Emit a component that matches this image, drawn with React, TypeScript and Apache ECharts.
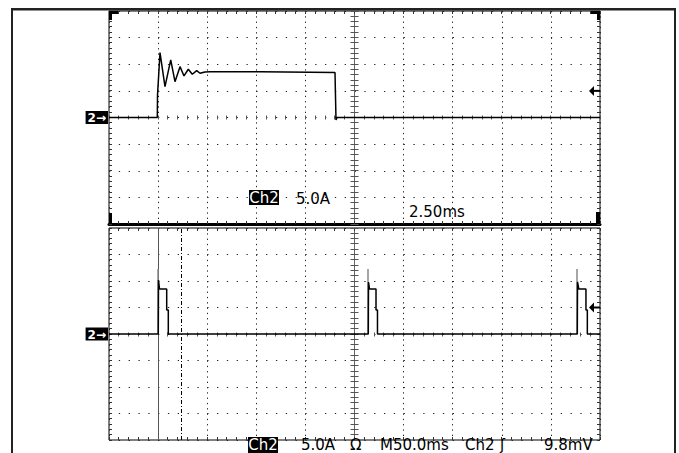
import React, { useEffect, useRef } from "react";
import * as echarts from "echarts";

// ---- Scales (5.0 A/div vertical, 10 x 8 divisions) ----
const Y_MIN = -20;
const Y_MAX = 20;
const Y_STEP = 5; // A per division
const UPPER_X_MAX = 25; // ms, 2.50 ms/div
const UPPER_X_STEP = 2.5;
const LOWER_X_MAX = 500; // ms, 50.0 ms/div
const LOWER_X_STEP = 50;
const TRIGGER_LEVEL = 5; // A (trigger arrow)

// ---- Upper (zoomed) trace: time ms, current A ----
const upperTime = [0, 2.459, 2.47, 2.597, 2.851, 3.142, 3.36, 3.615, 3.819, 4.038, 4.241, 4.465, 4.633, 4.888, 5.142, 7.688, 11.507, 11.558, 11.609, 25];
const upperAmps = [0, 0, 4.2, 12.18, 5.79, 10.81, 6.73, 9.55, 7.8, 9.06, 8.12, 8.8, 8.31, 8.55, 8.58, 8.58, 8.46, -0.47, 0, 0];

// ---- Lower (main) trace: time ms, current A ----
const lowerTime = [0, 50.2, 50.41, 51.43, 58.76, 58.76, 60.39, 60.39, 264.05, 264.25, 265.3, 271.9, 271.9, 273.4, 273.4, 476.9, 477.1, 478.4, 485.7, 485.7, 487.1, 487.1, 500];
const lowerAmps = [0, 0, 10.19, 8.49, 8.49, 4.53, 4.53, 0, 0, 9.81, 8.49, 8.49, 4.53, 4.53, 0, 0, 9.81, 8.49, 8.49, 4.53, 4.53, 0, 0];

// Peak-detect envelope spikes (grey) in lower trace
const envelopeTime = [49.9, 263.4, 476.3];
const envelopeAmps = [12.26, 12.26, 12.26];

// Zoom window cursors on lower trace (ms)
const zoomCursors = [50.2, 74.0];

// ---- Readout texts ----
const upperReadout = { ch: "Ch2", scale: "5.0A", time: "2.50ms" };
const bottomReadout = ["5.0A", "Ω", "M50.0ms", "Ch2", "ʃ", "9.8mV"];

const FONT = "DejaVu Sans";

function makeGraticule(xMax: number, brackets: boolean) {
  return (_params: any, api: any) => {
    const c = (x: number, y: number) => api.coord([x, y]);
    const snap = (v: number) => Math.round(v - 0.5) + 0.5;
    const left = c(0, 0)[0];
    const right = c(xMax, 0)[0];
    const top = c(0, Y_MAX)[1];
    const bottom = c(0, Y_MIN)[1];
    const cx = snap(c(xMax / 2, 0)[0]);
    const cy = snap(c(0, 0)[1]);
    const children: any[] = [];
    const line = (x1: number, y1: number, x2: number, y2: number, stroke: string, w = 1) =>
      children.push({ type: "line", shape: { x1, y1, x2, y2 }, style: { stroke, lineWidth: w } });
    const rect = (x: number, y: number, width: number, height: number) =>
      children.push({ type: "rect", shape: { x, y, width, height }, style: { fill: "#000" } });

    // vertical centre line
    line(cx, top, cx, bottom, "#666");
    // x minor ticks (1/5 div)
    for (let i = 0; i <= 50; i++) {
      const x = snap(c((xMax * i) / 50, 0)[0]);
      line(x, cy - 2, x, cy + 2, "#555");
      line(x, top, x, top + 3, "#333");
      line(x, bottom, x, bottom - 3, "#333");
    }
    // y minor ticks (1/5 div)
    for (let i = 0; i <= 40; i++) {
      const y = snap(c(0, Y_MIN + i)[1]);
      line(cx - 4, y, cx + 4, y, "#555");
      line(left, y, left + 3, y, "#333");
      line(right, y, right - 3, y, "#333");
    }
    if (brackets) {
      rect(left, top, 3, 9);
      rect(left, top, 9, 3);
      rect(right - 3, top, 3, 9);
      rect(right - 9, top, 9, 3);
      rect(left, bottom - 11, 3, 11);
      rect(right - 4, bottom - 12, 4, 12);
    }
    // trigger level arrow
    const ty = c(0, TRIGGER_LEVEL)[1];
    children.push({
      type: "polygon",
      shape: { points: [[right - 11, ty], [right - 6, ty - 5], [right - 6, ty + 5]] },
      style: { fill: "#000" },
    });
    rect(right - 6, ty - 1, 6, 2);
    return { type: "group", children };
  };
}

function axisPair(gridIndex: number, xMax: number, xStep: number, thickBottom: boolean) {
  const xAxis = {
    type: "value",
    gridIndex,
    min: 0,
    max: xMax,
    interval: xStep,
    axisLine: { show: thickBottom, onZero: false, lineStyle: { color: "#000", width: 3 } },
    axisTick: { show: false },
    axisLabel: { show: false },
    splitLine: { show: true, lineStyle: { color: "#222", width: 1, type: [1.3, 4.0] } },
  };
  const yAxis = {
    type: "value",
    gridIndex,
    min: Y_MIN,
    max: Y_MAX,
    interval: Y_STEP,
    axisLine: { show: false },
    axisTick: { show: false },
    axisLabel: {
      show: true,
      margin: 1,
      formatter: (v: number) => (v === 0 ? "{m|2→}" : ""),
      rich: {
        m: {
          backgroundColor: "#000",
          color: "#fff",
          fontFamily: FONT,
          fontSize: 12,
          fontWeight: "bold",
          padding: [1, 2, 0, 2],
          lineHeight: 11,
        },
      },
    },
    splitLine: { show: true, lineStyle: { color: "#222", width: 1, type: [1.3, 8.52] } },
  };
  return { xAxis, yAxis };
}

export default function App() {
  const ref = useRef<HTMLDivElement>(null);
  useEffect(() => {
    if (!ref.current) return;
    const chart = echarts.init(ref.current, null, { renderer: "svg" });
    const up = axisPair(0, UPPER_X_MAX, UPPER_X_STEP, true);
    const lo = axisPair(1, LOWER_X_MAX, LOWER_X_STEP, false);

    const markData: any[] = [
      { xAxis: zoomCursors[0], lineStyle: { color: "#555", width: 1, type: "solid" } },
      { xAxis: zoomCursors[1], lineStyle: { color: "#000", width: 1, type: [4, 2, 1, 2] } },
      ...envelopeTime.map((t, i) => [
        { coord: [t, 0], lineStyle: { color: "#888", width: 1.5, type: "solid" } },
        { coord: [t, envelopeAmps[i]] },
      ]),
    ];

    const textStyle = (text: string, x: number, y: number, extra: any = {}) => ({
      type: "text",
      x,
      y,
      z: 100,
      style: { text, fontFamily: FONT, fontSize: 15, fill: "#000", verticalAlign: "middle", ...extra },
    });
    const bottomX = [301, 350, 380, 465, 500, 544];
    const BOTTOM_Y = 445;

    const option: any = {
      animation: false,
      backgroundColor: "#fff",
      grid: [
        { left: 109, top: 11, width: 491, height: 213, show: true, borderColor: "#000", borderWidth: 1, outerBoundsMode: "none" },
        { left: 109, top: 228, width: 491, height: 212, show: true, borderColor: "#000", borderWidth: 1, outerBoundsMode: "none" },
      ],
      xAxis: [up.xAxis, lo.xAxis],
      yAxis: [up.yAxis, lo.yAxis],
      series: [
        {
          type: "custom",
          xAxisIndex: 0,
          yAxisIndex: 0,
          silent: true,
          z: 2,
          data: [[0, 0]],
          renderItem: makeGraticule(UPPER_X_MAX, true),
        },
        {
          type: "custom",
          xAxisIndex: 1,
          yAxisIndex: 1,
          silent: true,
          z: 2,
          data: [[0, 0]],
          renderItem: makeGraticule(LOWER_X_MAX, false),
        },
        {
          type: "line",
          xAxisIndex: 0,
          yAxisIndex: 0,
          z: 5,
          showSymbol: false,
          symbol: "none",
          lineStyle: { color: "#000", width: 1.5 },
          data: upperTime.map((t, i) => [t, upperAmps[i]]),
        },
        {
          type: "line",
          xAxisIndex: 1,
          yAxisIndex: 1,
          z: 5,
          showSymbol: false,
          symbol: "none",
          lineStyle: { color: "#000", width: 1.5 },
          data: lowerTime.map((t, i) => [t, lowerAmps[i]]),
          markLine: { silent: true, symbol: "none", label: { show: false }, data: markData },
        },
      ],
      graphic: [
        // outer frame
        { type: "rect", shape: { x: 11, y: 8, width: 2, height: 460 }, style: { fill: "#222" } },
        { type: "rect", shape: { x: 11, y: 8, width: 665, height: 2.5 }, style: { fill: "#222" } },
        { type: "rect", shape: { x: 674, y: 8, width: 2, height: 460 }, style: { fill: "#222" } },
        // upper readouts
        { type: "rect", z: 99, shape: { x: 249, y: 190, width: 30, height: 15 }, style: { fill: "#000" } },
        textStyle(upperReadout.ch, 264, 197.5, { fill: "#fff", align: "center" }),
        textStyle(upperReadout.scale, 296, 198.5),
        textStyle(upperReadout.time, 409, 212),
        // bottom status line
        { type: "rect", z: 99, shape: { x: 248, y: BOTTOM_Y - 8, width: 30, height: 16 }, style: { fill: "#000" } },
        textStyle("Ch2", 263, BOTTOM_Y, { fill: "#fff", align: "center" }),
        ...bottomReadout.map((s, i) => textStyle(s, bottomX[i], BOTTOM_Y)),
      ],
    };
    chart.setOption(option);
    return () => chart.dispose();
  }, []);
  return <div ref={ref} style={{ position: "fixed", left: 0, top: 0, width: 679, height: 453, background: "#fff" }} />;
}
